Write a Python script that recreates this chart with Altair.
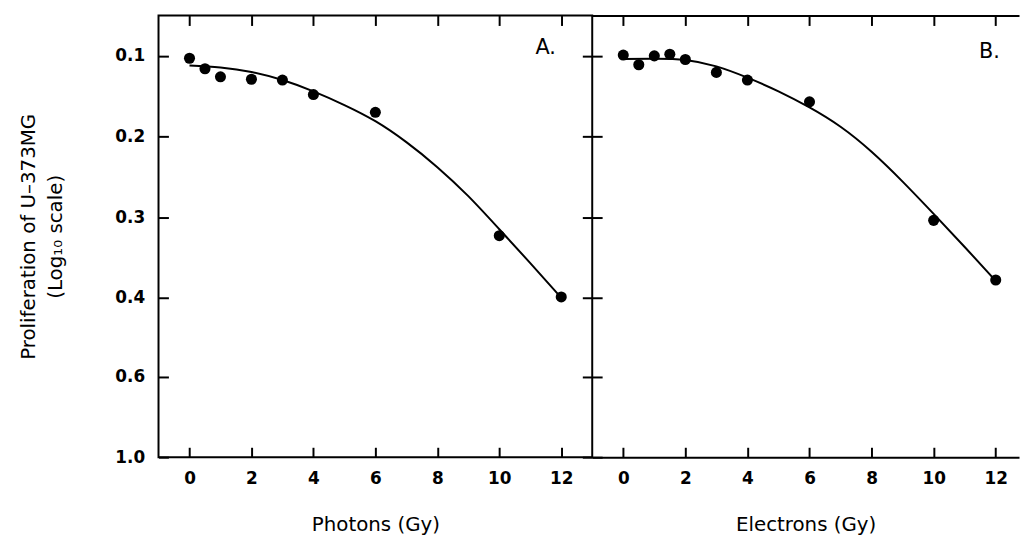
import altair as alt
import pandas as pd

# ---------------- data ----------------
photon_dose = [0, 0.5, 1, 2, 3, 4, 6, 10, 12]
photon_prolif = [0.103, 0.116, 0.126, 0.129, 0.130, 0.148, 0.170, 0.323, 0.399]
photon_fit_dose = [0, 1, 2, 3, 4, 5, 6, 7, 8, 9, 10, 11, 12]
photon_fit = [0.112, 0.1145, 0.120, 0.130, 0.144, 0.161, 0.181, 0.207, 0.238, 0.274, 0.315, 0.357, 0.400]

electron_dose = [0, 0.5, 1, 1.5, 2, 3, 4, 6, 10, 12]
electron_prolif = [0.099, 0.111, 0.100, 0.098, 0.1045, 0.1205, 0.130, 0.157, 0.304, 0.378]
electron_fit_dose = [0, 1, 2, 3, 4, 5, 6, 7, 8, 9, 10, 11, 12]
electron_fit = [0.104, 0.1035, 0.105, 0.113, 0.127, 0.144, 0.164, 0.188, 0.219, 0.256, 0.296, 0.337, 0.379]

panel_labels = ["A.", "B."]
panel_label_x = [11.5, 11.8]
panel_label_y = [0.090, 0.095]
x_titles = ["Photons (Gy)", "Electrons (Gy)"]
y_title = ["Proliferation of U\u2013373MG", "(Log\u2081\u2080 scale)"]
x_ticks = [0, 2, 4, 6, 8, 10, 12]
y_ticks = [0.1, 0.2, 0.3, 0.4, 0.6, 1.0]
y_edges = [0.05, 1.0]

# ---------------- style ----------------
FONT = "DejaVu Sans"
H = 446
W_LEFT = 438
W_RIGHT = 431
TICK = 10

y_scale = alt.Scale(domain=[0.05, 0.4, 0.6, 1.0], range=[0, 285, 365, H], nice=False, zero=False)


def x_scale(hi):
    return alt.Scale(domain=[-1, hi], nice=False, zero=False)


def bottom_axis(title):
    return alt.Axis(orient="bottom", values=x_ticks, offset=-TICK, tickSize=TICK, tickWidth=2,
                    tickColor="black", domain=False, grid=False, labelPadding=14,
                    labelFont=FONT, labelFontSize=17, labelFontWeight="bold", labelColor="black",
                    labelFlush=False, title=title, titleFont=FONT, titleFontSize=20,
                    titleFontWeight="normal", titleColor="black", titlePadding=28)


def top_axis():
    return alt.Axis(orient="top", values=x_ticks, offset=-TICK, tickSize=TICK, tickWidth=2,
                    tickColor="black", domain=False, grid=False, labels=False, title=None)


def left_axis(with_labels):
    if with_labels:
        return alt.Axis(orient="left", values=y_ticks, format=".1f", offset=-TICK, tickSize=TICK,
                        tickWidth=2, tickColor="black", domain=False, grid=False, labelPadding=14,
                        labelFont=FONT, labelFontSize=17, labelFontWeight="bold", labelColor="black",
                        labelFlush=False, title=y_title, titleFont=FONT, titleFontSize=20,
                        titleFontWeight="normal", titleColor="black", titlePadding=50,
                        titleLineHeight=27)
    return alt.Axis(orient="left", values=y_ticks, offset=-TICK, tickSize=TICK, tickWidth=2,
                    tickColor="black", domain=False, grid=False, labels=False, title=None)


def right_axis():
    return alt.Axis(orient="right", values=y_ticks, offset=-TICK, tickSize=TICK, tickWidth=2,
                    tickColor="black", domain=False, grid=False, labels=False, title=None)


def frame_axis():
    return alt.Axis(orient="left", values=y_edges, grid=True, gridColor="black", gridWidth=2,
                    gridOpacity=1, ticks=False, labels=False, domain=False, title=None)


def panel(i, dose, prolif, fdose, fit, xhi, width, y_labels):
    pts_df = pd.DataFrame({"dose": dose, "prolif": prolif})
    fit_df = pd.DataFrame({"dose": fdose, "prolif": fit})
    lab_df = pd.DataFrame({"dose": [panel_label_x[i]], "prolif": [panel_label_y[i]],
                           "label": [panel_labels[i]]})
    xs = x_scale(xhi)
    pts = alt.Chart(pts_df).mark_circle(size=125, color="black", opacity=1).encode(
        x=alt.X("dose:Q", scale=xs, axis=bottom_axis(x_titles[i])),
        y=alt.Y("prolif:Q", scale=y_scale, axis=left_axis(y_labels)),
    )
    line = alt.Chart(fit_df).mark_line(color="black", strokeWidth=2, interpolate="natural").encode(
        x=alt.X("dose:Q", scale=xs, axis=top_axis()),
        y=alt.Y("prolif:Q", scale=y_scale, axis=right_axis() if y_labels else None),
    )
    lab = alt.Chart(lab_df).mark_text(font=FONT, fontSize=21, color="black", align="center",
                                      baseline="middle").encode(
        x=alt.X("dose:Q", scale=xs, axis=None),
        y=alt.Y("prolif:Q", scale=y_scale, axis=None if y_labels else frame_axis()),
        text="label:N",
    )
    layer = alt.layer(pts, line, lab).resolve_axis(x="independent", y="independent")
    if y_labels:
        return layer.properties(width=width, height=H,
                                view=alt.ViewBackground(stroke="black", strokeWidth=2))
    return layer.properties(width=width, height=H)


left = panel(0, photon_dose, photon_prolif, photon_fit_dose, photon_fit, 13, W_LEFT, True)
right = panel(1, electron_dose, electron_prolif, electron_fit_dose, electron_fit, 12.75, W_RIGHT, False)

chart = (
    alt.hconcat(left, right, spacing=0, bounds="flush")
    .properties(padding={"left": 9, "top": 3, "right": 0, "bottom": 0}, background="white")
    .configure_view(stroke="transparent")
)

chart.save("out.html", embed_options={"renderer": "svg", "actions": False})
